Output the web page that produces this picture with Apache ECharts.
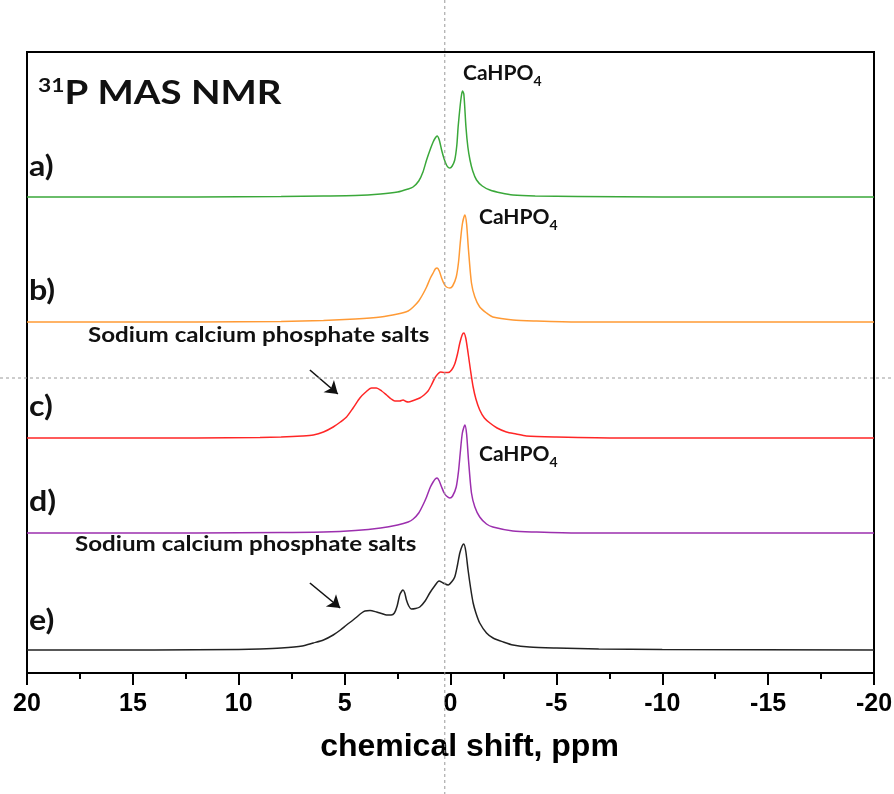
<!DOCTYPE html>
<html>
<head>
<meta charset="utf-8">
<script src="https://cdn.jsdelivr.net/npm/echarts@6/dist/echarts.min.js"></script>
<style>html,body{margin:0;padding:0;background:#fff}#main{width:894px;height:794px}</style>
</head>
<body>
<div id="main"></div>
<script>
// stacked 31P spectra, intensity in arbitrary units, baseline offset per trace
var ppmA = [20, 12, 8, 6, 4.5, 3.3, 2.5, 2.0, 1.77, 1.5, 1.3, 1.13, 0.95, 0.82, 0.72, 0.63, 0.53, 0.42, 0.3, 0.19, 0.1, 0.03, -0.08, -0.2, -0.3, -0.36, -0.45, -0.52, -0.57, -0.63, -0.73, -0.82, -0.92, -1.05, -1.23, -1.5, -1.86, -2.4, -2.95, -4, -6, -10, -20];
var intA = [0, 0, 0.5, 1, 1.5, 3, 5, 8, 10, 16, 25, 37, 48, 55, 59, 61, 57, 47, 38, 32, 29.5, 29, 31, 37, 52, 70, 90, 102, 106, 103, 70, 50, 37, 26, 17, 11, 7, 4, 2, 1, 0.5, 0, 0];
var ppmB = [20, 12, 8, 6, 4.5, 3.3, 2.5, 2.0, 1.76, 1.5, 1.3, 1.13, 0.95, 0.82, 0.72, 0.63, 0.53, 0.42, 0.3, 0.19, 0.03, -0.1, -0.27, -0.38, -0.46, -0.56, -0.68, -0.76, -0.85, -0.99, -1.15, -1.38, -1.7, -2.0, -2.95, -4, -6, -20];
var intB = [0, 0, 0.5, 1.5, 3, 5, 8, 11, 15, 21, 28, 35, 44, 49, 53, 54, 51, 44, 38, 35, 34, 36, 45, 60, 79, 98, 107, 98, 72, 39, 25, 15, 9, 5, 2, 1, 0, 0];
var ppmC = [20, 12, 9, 8, 7, 6.48, 6, 5.54, 5.2, 4.91, 4.6, 4.28, 4.0, 3.73, 3.5, 3.25, 3.02, 2.8, 2.63, 2.4, 2.24, 2.1, 2.0, 1.75, 1.45, 1.25, 1.06, 0.9, 0.74, 0.6, 0.47, 0.3, 0.11, -0.05, -0.2, -0.33, -0.44, -0.55, -0.63, -0.72, -0.83, -0.95, -1.07, -1.2, -1.38, -1.6, -1.86, -2.2, -2.64, -3.1, -3.58, -5, -8, -20];
var intC = [0, 0, 0.5, 1, 2, 3, 6, 11, 16, 21, 30, 40, 46, 50, 50, 47, 43, 39, 37, 37, 38, 36.5, 36, 37.5, 40, 43, 47, 53, 60, 64, 66, 65.5, 65.5, 68, 74, 84, 95, 103, 105, 100, 85, 67, 51, 39, 28, 20, 15, 10, 6, 4, 2, 1, 0, 0];
var ppmD = [20, 12, 8, 6, 4.5, 3.3, 2.5, 2.0, 1.76, 1.5, 1.3, 1.13, 0.95, 0.82, 0.72, 0.63, 0.53, 0.42, 0.3, 0.19, 0.03, -0.1, -0.27, -0.38, -0.46, -0.56, -0.68, -0.76, -0.85, -0.99, -1.15, -1.38, -1.7, -2.0, -2.95, -4, -6, -20];
var intD = [0, 0, 0.5, 1, 2.5, 5, 8, 11, 14, 20, 28, 36, 46, 51, 54, 55, 52, 46, 40, 37, 35, 37, 46, 62, 80, 100, 108, 99, 73, 40, 26, 16, 9, 6, 2, 1, 0, 0];
var ppmE = [20, 14, 10, 9, 8, 7, 6.48, 6, 5.54, 5.2, 4.91, 4.6, 4.43, 4.2, 4.04, 3.8, 3.49, 3.25, 3.02, 2.8, 2.65, 2.52, 2.4, 2.3, 2.24, 2.16, 2.08, 1.97, 1.85, 1.65, 1.45, 1.2, 0.98, 0.75, 0.54, 0.35, 0.11, -0.05, -0.2, -0.33, -0.44, -0.55, -0.63, -0.72, -0.83, -0.95, -1.07, -1.2, -1.38, -1.7, -2.01, -2.5, -2.95, -3.73, -5, -7, -10, -20];
var intE = [0, 0, 0.5, 1, 2, 4, 7, 10, 15, 20, 25, 30, 33, 37, 39, 39.5, 38, 36.5, 35, 35, 37, 44, 55, 59, 60, 57, 50, 44, 41, 41.5, 43, 49, 57, 64, 69, 67, 65, 68, 73, 85, 97, 104, 106, 99, 80, 62, 47, 37, 27, 17, 12, 8, 5, 3, 2, 1, 0.5, 0];
var offsets = [476, 351, 235, 140, 23];
var colors = ['#3aa83a', '#ff9a35', '#ff2626', '#9c2fae', '#222222'];
var tickLabels = ['20', '15', '10', '5', '0', '-5', '-10', '-15', '-20'];
var arrowC = [[6.64, 303], [5.32, 279]];
var arrowE = [[6.64, 90], [5.21, 65]];
var crossX = 0.27, crossY = 295;

function build(p, v, off) {
    return p.map(function (x, i) { return [x, off + v[i]]; });
}
var traces = [build(ppmA, intA, offsets[0]), build(ppmB, intB, offsets[1]), build(ppmC, intC, offsets[2]),
    build(ppmD, intD, offsets[3]), build(ppmE, intE, offsets[4])];

var myChart = echarts.init(document.getElementById('main'));
var lbl = 'Lato';
function arrow(a) {
    return {
        silent: true, animation: false, symbol: ['none', 'arrow'], symbolSize: 12,
        lineStyle: { color: '#111', width: 1.6, type: 'solid' }, label: { show: false },
        data: [[{ coord: a[0] }, { coord: a[1] }]]
    };
}
var series = traces.map(function (d, i) {
    var s = {
        type: 'line', data: d, showSymbol: false, smooth: 0.25, animation: false,
        lineStyle: { color: colors[i], width: 1.5 }, itemStyle: { color: colors[i] }
    };
    if (i === 2) s.markLine = arrow(arrowC);
    if (i === 4) s.markLine = arrow(arrowE);
    return s;
});
function txt(x, y, t, size, sx, rich) {
    var o = {
        type: 'text', left: x, top: y, z: 10, scaleX: sx || 1,
        style: { text: t, fontFamily: lbl, fontWeight: 'bold', fontSize: size, fill: '#111' }
    };
    if (rich) o.style.rich = rich;
    return o;
}
var subRich = {
    m: { fontFamily: lbl, fontWeight: 'bold', fontSize: 21, lineHeight: 30, fill: '#111' },
    s: { fontFamily: lbl, fontWeight: 'bold', fontSize: 14, lineHeight: 14, verticalAlign: 'bottom', fill: '#111' }
};
var option = {
    animation: false,
    grid: { left: 27, right: 20, top: 52, bottom: 121, show: true, borderColor: '#000', borderWidth: 2, containLabel: false, outerBoundsMode: 'none' },
    xAxis: {
        type: 'value', min: -20, max: 20, interval: 5, inverse: true,
        axisLine: { onZero: false, lineStyle: { color: '#000', width: 2 } },
        axisTick: { length: 12, lineStyle: { color: '#000', width: 2 } },
        minorTick: { show: true, splitNumber: 2, length: 6, lineStyle: { color: '#000', width: 2 } },
        splitLine: { show: false },
        axisLabel: {
            margin: 19, color: '#000', fontFamily: 'Liberation Sans', fontWeight: 'bold', fontSize: 25,
            formatter: function (v) { return tickLabels[(20 - v) / 5]; }
        },
        name: 'chemical shift, ppm', nameLocation: 'middle', nameGap: 58,
        nameTextStyle: { color: '#000', fontFamily: 'Liberation Sans', fontWeight: 'bold', fontSize: 32, padding: [0, 0, 0, 38] }
    },
    yAxis: {
        type: 'value', min: 0, max: 621,
        axisLine: { show: true, onZero: false, lineStyle: { color: '#000', width: 2 } },
        axisTick: { show: false }, axisLabel: { show: false }, splitLine: { show: false }
    },
    series: series
};
myChart.setOption(option);

var px = myChart.convertToPixel({ xAxisIndex: 0 }, crossX);
var py = myChart.convertToPixel({ yAxisIndex: 0 }, crossY);
var dash = { stroke: '#9a9a9a', lineWidth: 1, lineDash: [3, 3] };
myChart.setOption({
    graphic: [
        { type: 'line', shape: { x1: px, y1: 0, x2: px, y2: 794 }, style: dash, z: 5, silent: true },
        { type: 'line', shape: { x1: 0, y1: py, x2: 894, y2: py }, style: dash, z: 5, silent: true },
        txt(38, 76, '{u|31}{p|P MAS NMR}', 32, 1.2, {
            u: { fontFamily: lbl, fontWeight: 'bold', fontSize: 19, verticalAlign: 'top', lineHeight: 36, fill: '#111' },
            p: { fontFamily: lbl, fontWeight: 'bold', fontSize: 32, lineHeight: 36, fill: '#111' }
        }),
        txt(29, 153, 'a)', 28, 1.15), txt(29, 277, 'b)', 28, 1.15), txt(29, 393, 'c)', 28, 1.15),
        txt(29, 488, 'd)', 28, 1.15), txt(29, 607, 'e)', 28, 1.15),
        txt(463, 63, '{m|CaHPO}{s|4}', 21, 1, subRich),
        txt(479, 207, '{m|CaHPO}{s|4}', 21, 1, subRich),
        txt(479, 444, '{m|CaHPO}{s|4}', 21, 1, subRich),
        txt(88, 325, 'Sodium calcium phosphate salts', 21, 1.15),
        txt(75, 534, 'Sodium calcium phosphate salts', 21, 1.15)
    ]
});
</script>
</body>
</html>
